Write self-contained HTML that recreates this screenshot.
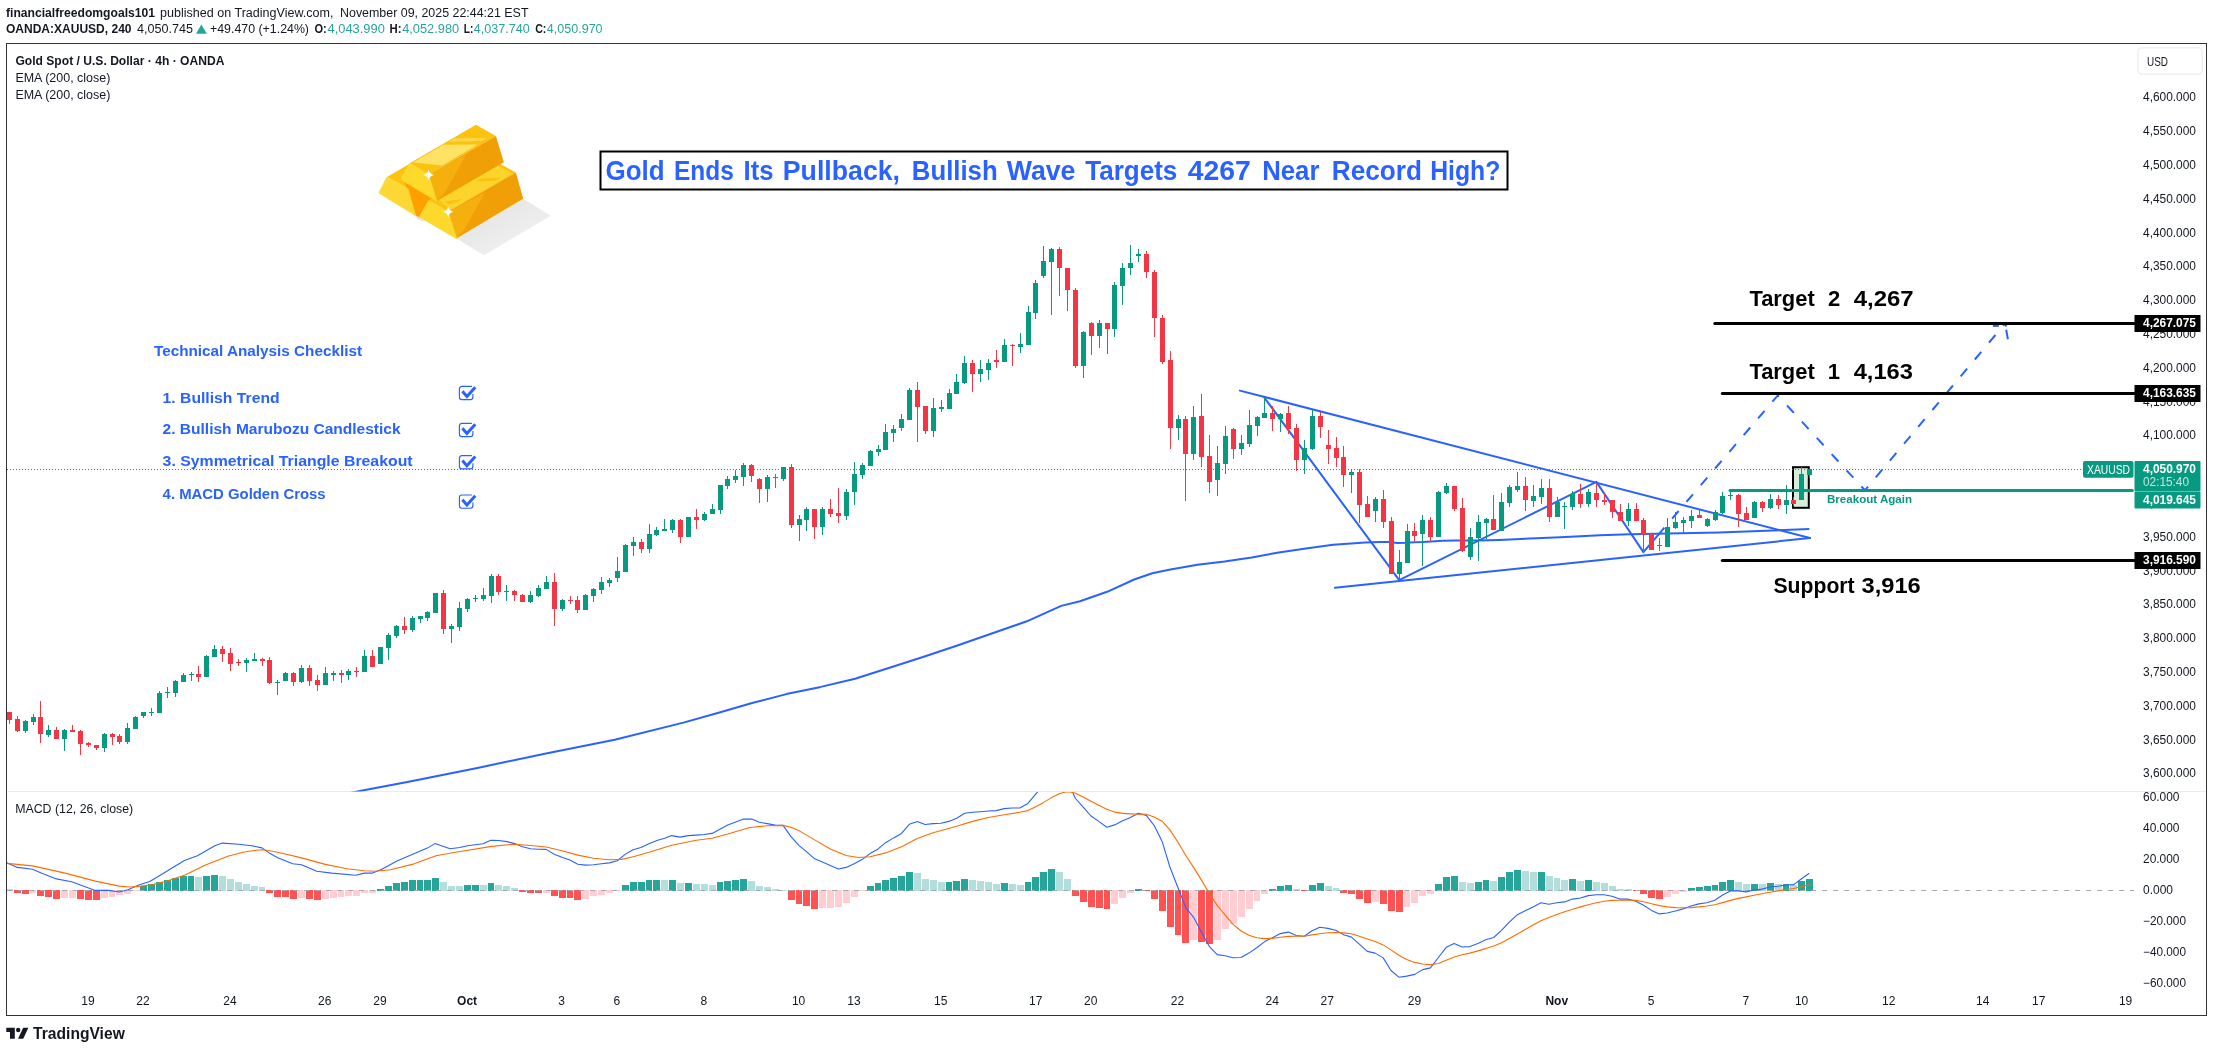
<!DOCTYPE html><html><head><meta charset="utf-8"><title>XAUUSD chart</title><style>html,body{margin:0;padding:0;background:#fff}svg{display:block;will-change:transform}</style></head><body><svg width="2213" height="1052" viewBox="0 0 2213 1052" font-family="'Liberation Sans', sans-serif">
<rect width="2213" height="1052" fill="#fff"/>
<defs><clipPath id="cm"><rect x="7" y="44" width="2200" height="747.5"/></clipPath><clipPath id="cd"><rect x="7" y="792" width="2128" height="223"/></clipPath></defs>
<text x="6" y="17" font-size="12" font-weight="bold" fill="#131722" text-anchor="start" textLength="149" lengthAdjust="spacingAndGlyphs">financialfreedomgoals101</text>
<text x="160" y="17" font-size="12" font-weight="normal" fill="#131722" text-anchor="start" textLength="173.5" lengthAdjust="spacingAndGlyphs">published on TradingView.com,</text>
<text x="340" y="17" font-size="12" font-weight="normal" fill="#131722" text-anchor="start" textLength="188.5" lengthAdjust="spacingAndGlyphs">November 09, 2025 22:44:21 EST</text>
<text x="6" y="33.2" font-size="12" font-weight="bold" fill="#131722" text-anchor="start" textLength="125.5" lengthAdjust="spacingAndGlyphs">OANDA:XAUUSD, 240</text>
<text x="137" y="33.2" font-size="12" font-weight="normal" fill="#131722" text-anchor="start" textLength="56" lengthAdjust="spacingAndGlyphs">4,050.745</text>
<path d="M196 33.7 L201.4 24.4 L206.8 33.7 Z" fill="#26a69a"/>
<text x="210" y="33.2" font-size="12" font-weight="normal" fill="#131722" text-anchor="start" textLength="99" lengthAdjust="spacingAndGlyphs">+49.470 (+1.24%)</text>
<text x="314.4" y="33.2" font-size="12" font-weight="bold" fill="#131722" text-anchor="start" textLength="12.3" lengthAdjust="spacingAndGlyphs">O:</text>
<text x="327.6" y="33.2" font-size="12" font-weight="normal" fill="#26a69a" text-anchor="start" textLength="57.2" lengthAdjust="spacingAndGlyphs">4,043.990</text>
<text x="389.5" y="33.2" font-size="12" font-weight="bold" fill="#131722" text-anchor="start" textLength="12" lengthAdjust="spacingAndGlyphs">H:</text>
<text x="402.2" y="33.2" font-size="12" font-weight="normal" fill="#26a69a" text-anchor="start" textLength="57" lengthAdjust="spacingAndGlyphs">4,052.980</text>
<text x="463.7" y="33.2" font-size="12" font-weight="bold" fill="#131722" text-anchor="start" textLength="9.6" lengthAdjust="spacingAndGlyphs">L:</text>
<text x="473.8" y="33.2" font-size="12" font-weight="normal" fill="#26a69a" text-anchor="start" textLength="56" lengthAdjust="spacingAndGlyphs">4,037.740</text>
<text x="535.2" y="33.2" font-size="12" font-weight="bold" fill="#131722" text-anchor="start" textLength="11.2" lengthAdjust="spacingAndGlyphs">C:</text>
<text x="546.8" y="33.2" font-size="12" font-weight="normal" fill="#26a69a" text-anchor="start" textLength="55.8" lengthAdjust="spacingAndGlyphs">4,050.970</text>
<rect x="6.5" y="43.5" width="2200" height="972" fill="none" stroke="#333" stroke-width="1"/>
<line x1="8" y1="791.5" x2="2206" y2="791.5" stroke="#ebebeb" stroke-width="1"/>
<text x="2196" y="777.3" font-size="12" font-weight="normal" fill="#131722" text-anchor="end" textLength="53" lengthAdjust="spacingAndGlyphs">3,600.000</text>
<text x="2196" y="743.5" font-size="12" font-weight="normal" fill="#131722" text-anchor="end" textLength="53" lengthAdjust="spacingAndGlyphs">3,650.000</text>
<text x="2196" y="709.7" font-size="12" font-weight="normal" fill="#131722" text-anchor="end" textLength="53" lengthAdjust="spacingAndGlyphs">3,700.000</text>
<text x="2196" y="675.9" font-size="12" font-weight="normal" fill="#131722" text-anchor="end" textLength="53" lengthAdjust="spacingAndGlyphs">3,750.000</text>
<text x="2196" y="642.1" font-size="12" font-weight="normal" fill="#131722" text-anchor="end" textLength="53" lengthAdjust="spacingAndGlyphs">3,800.000</text>
<text x="2196" y="608.3" font-size="12" font-weight="normal" fill="#131722" text-anchor="end" textLength="53" lengthAdjust="spacingAndGlyphs">3,850.000</text>
<text x="2196" y="574.5" font-size="12" font-weight="normal" fill="#131722" text-anchor="end" textLength="53" lengthAdjust="spacingAndGlyphs">3,900.000</text>
<text x="2196" y="540.7" font-size="12" font-weight="normal" fill="#131722" text-anchor="end" textLength="53" lengthAdjust="spacingAndGlyphs">3,950.000</text>
<text x="2196" y="506.9" font-size="12" font-weight="normal" fill="#131722" text-anchor="end" textLength="53" lengthAdjust="spacingAndGlyphs">4,000.000</text>
<text x="2196" y="473.1" font-size="12" font-weight="normal" fill="#131722" text-anchor="end" textLength="53" lengthAdjust="spacingAndGlyphs">4,050.000</text>
<text x="2196" y="439.3" font-size="12" font-weight="normal" fill="#131722" text-anchor="end" textLength="53" lengthAdjust="spacingAndGlyphs">4,100.000</text>
<text x="2196" y="405.5" font-size="12" font-weight="normal" fill="#131722" text-anchor="end" textLength="53" lengthAdjust="spacingAndGlyphs">4,150.000</text>
<text x="2196" y="371.7" font-size="12" font-weight="normal" fill="#131722" text-anchor="end" textLength="53" lengthAdjust="spacingAndGlyphs">4,200.000</text>
<text x="2196" y="337.9" font-size="12" font-weight="normal" fill="#131722" text-anchor="end" textLength="53" lengthAdjust="spacingAndGlyphs">4,250.000</text>
<text x="2196" y="304.1" font-size="12" font-weight="normal" fill="#131722" text-anchor="end" textLength="53" lengthAdjust="spacingAndGlyphs">4,300.000</text>
<text x="2196" y="270.3" font-size="12" font-weight="normal" fill="#131722" text-anchor="end" textLength="53" lengthAdjust="spacingAndGlyphs">4,350.000</text>
<text x="2196" y="236.5" font-size="12" font-weight="normal" fill="#131722" text-anchor="end" textLength="53" lengthAdjust="spacingAndGlyphs">4,400.000</text>
<text x="2196" y="202.7" font-size="12" font-weight="normal" fill="#131722" text-anchor="end" textLength="53" lengthAdjust="spacingAndGlyphs">4,450.000</text>
<text x="2196" y="168.9" font-size="12" font-weight="normal" fill="#131722" text-anchor="end" textLength="53" lengthAdjust="spacingAndGlyphs">4,500.000</text>
<text x="2196" y="135.1" font-size="12" font-weight="normal" fill="#131722" text-anchor="end" textLength="53" lengthAdjust="spacingAndGlyphs">4,550.000</text>
<text x="2196" y="101.3" font-size="12" font-weight="normal" fill="#131722" text-anchor="end" textLength="53" lengthAdjust="spacingAndGlyphs">4,600.000</text>
<text x="2143" y="987.0" font-size="12" font-weight="normal" fill="#131722" text-anchor="start" textLength="43" lengthAdjust="spacingAndGlyphs">−60.000</text>
<text x="2143" y="956.0" font-size="12" font-weight="normal" fill="#131722" text-anchor="start" textLength="43" lengthAdjust="spacingAndGlyphs">−40.000</text>
<text x="2143" y="925.1" font-size="12" font-weight="normal" fill="#131722" text-anchor="start" textLength="43" lengthAdjust="spacingAndGlyphs">−20.000</text>
<text x="2143" y="894.2" font-size="12" font-weight="normal" fill="#131722" text-anchor="start" textLength="30" lengthAdjust="spacingAndGlyphs">0.000</text>
<text x="2143" y="863.3" font-size="12" font-weight="normal" fill="#131722" text-anchor="start" textLength="36.5" lengthAdjust="spacingAndGlyphs">20.000</text>
<text x="2143" y="832.4" font-size="12" font-weight="normal" fill="#131722" text-anchor="start" textLength="36.5" lengthAdjust="spacingAndGlyphs">40.000</text>
<text x="2143" y="801.4" font-size="12" font-weight="normal" fill="#131722" text-anchor="start" textLength="36.5" lengthAdjust="spacingAndGlyphs">60.000</text>
<rect x="2138" y="47.7" width="64.2" height="26.6" rx="4.5" fill="#fff" stroke="#f0f0f1" stroke-width="1.6"/>
<text x="2147" y="66" font-size="12" font-weight="normal" fill="#131722" text-anchor="start" textLength="21" lengthAdjust="spacingAndGlyphs">USD</text>
<text x="87.9" y="1005" font-size="12" font-weight="normal" fill="#131722" text-anchor="middle">19</text>
<text x="143" y="1005" font-size="12" font-weight="normal" fill="#131722" text-anchor="middle">22</text>
<text x="230" y="1005" font-size="12" font-weight="normal" fill="#131722" text-anchor="middle">24</text>
<text x="324.7" y="1005" font-size="12" font-weight="normal" fill="#131722" text-anchor="middle">26</text>
<text x="380" y="1005" font-size="12" font-weight="normal" fill="#131722" text-anchor="middle">29</text>
<text x="467.1" y="1005" font-size="12" font-weight="bold" fill="#131722" text-anchor="middle">Oct</text>
<text x="561.5" y="1005" font-size="12" font-weight="normal" fill="#131722" text-anchor="middle">3</text>
<text x="616.8" y="1005" font-size="12" font-weight="normal" fill="#131722" text-anchor="middle">6</text>
<text x="703.9" y="1005" font-size="12" font-weight="normal" fill="#131722" text-anchor="middle">8</text>
<text x="798.6" y="1005" font-size="12" font-weight="normal" fill="#131722" text-anchor="middle">10</text>
<text x="854" y="1005" font-size="12" font-weight="normal" fill="#131722" text-anchor="middle">13</text>
<text x="940.7" y="1005" font-size="12" font-weight="normal" fill="#131722" text-anchor="middle">15</text>
<text x="1035.8" y="1005" font-size="12" font-weight="normal" fill="#131722" text-anchor="middle">17</text>
<text x="1090.8" y="1005" font-size="12" font-weight="normal" fill="#131722" text-anchor="middle">20</text>
<text x="1177.5" y="1005" font-size="12" font-weight="normal" fill="#131722" text-anchor="middle">22</text>
<text x="1272.3" y="1005" font-size="12" font-weight="normal" fill="#131722" text-anchor="middle">24</text>
<text x="1327.3" y="1005" font-size="12" font-weight="normal" fill="#131722" text-anchor="middle">27</text>
<text x="1414.4" y="1005" font-size="12" font-weight="normal" fill="#131722" text-anchor="middle">29</text>
<text x="1556.8" y="1005" font-size="12" font-weight="bold" fill="#131722" text-anchor="middle">Nov</text>
<text x="1651.2" y="1005" font-size="12" font-weight="normal" fill="#131722" text-anchor="middle">5</text>
<text x="1745.9" y="1005" font-size="12" font-weight="normal" fill="#131722" text-anchor="middle">7</text>
<text x="1801.6" y="1005" font-size="12" font-weight="normal" fill="#131722" text-anchor="middle">10</text>
<text x="1888.7" y="1005" font-size="12" font-weight="normal" fill="#131722" text-anchor="middle">12</text>
<text x="1982.7" y="1005" font-size="12" font-weight="normal" fill="#131722" text-anchor="middle">14</text>
<text x="2038.7" y="1005" font-size="12" font-weight="normal" fill="#131722" text-anchor="middle">17</text>
<text x="2125.6" y="1005" font-size="12" font-weight="normal" fill="#131722" text-anchor="middle">19</text>
<text x="15.4" y="65" font-size="12" font-weight="bold" fill="#131722" text-anchor="start" textLength="209" lengthAdjust="spacingAndGlyphs">Gold Spot / U.S. Dollar · 4h · OANDA</text>
<text x="15.4" y="82.2" font-size="12" font-weight="normal" fill="#131722" text-anchor="start" textLength="95" lengthAdjust="spacingAndGlyphs">EMA (200, close)</text>
<text x="15.4" y="99" font-size="12" font-weight="normal" fill="#131722" text-anchor="start" textLength="95" lengthAdjust="spacingAndGlyphs">EMA (200, close)</text>
<text x="15.2" y="812.5" font-size="12" font-weight="normal" fill="#131722" text-anchor="start" textLength="118" lengthAdjust="spacingAndGlyphs">MACD (12, 26, close)</text>
<g clip-path="url(#cm)">
<polyline fill="none" stroke="#2962ff" stroke-width="2" stroke-linejoin="round" points="340,795 362.3,790.6 408.7,781.7 477.4,767.9 546,753.5 614.7,739.8 683.4,722.6 717.7,713 752.1,703 786.4,694.1 820.8,686.9 855.1,678.7 889.5,667.7 923.8,656.7 958.1,645.3 992.5,633.3 1026.8,621.3 1061.2,605.9 1080,601.2 1107.1,591.8 1134.2,579.5 1152.3,573.2 1170.4,569.6 1197.5,564.7 1224.6,561.5 1251.7,557.5 1278.8,552.4 1305.9,548.4 1333,544.8 1351.1,543.4 1365,542.5 1380,542 1388.6,542.1 1397.1,543 1405.7,542.8 1414.2,542.3 1422.8,542 1431.3,541.4 1442.7,540.7 1454.2,540.4 1465.6,540.6 1477,540.6 1499.4,539.9 1560.4,537.2 1600,535.3 1630,534.2 1719,532.5 1809.3,529.1"/>
<line x1="1239.9" y1="390.6" x2="1810" y2="538" stroke="#2962ff" stroke-width="2" stroke-linecap="round"/>
<line x1="1334.9" y1="587.7" x2="1810" y2="538" stroke="#2962ff" stroke-width="2" stroke-linecap="round"/>
<polyline fill="none" stroke="#2962ff" stroke-width="2" stroke-linejoin="round" stroke-linecap="round" points="1264.5,397.8 1399.2,580.2 1596.4,481.9 1643.4,552.1 1657.8,535.3"/>
<polyline fill="none" stroke="#2962ff" stroke-width="2" stroke-dasharray="10 12" points="1657.8,535.3 1777.8,395.4 1864.9,490.3 2005.5,323"/>
<path d="M1992.9 325.9 L1998.9 325.7 M2005.3 324.5 L2006.5 326.6 M2006.2 329.7 L2007.9 339.2" fill="none" stroke="#2962ff" stroke-width="2"/>
<rect x="1793" y="467.2" width="15.8" height="40.6" fill="rgba(76,175,80,0.22)" stroke="#000" stroke-width="2"/>
<line x1="1714.8" y1="323.5" x2="2134" y2="323.5" stroke="#000" stroke-width="3" stroke-linecap="round"/>
<line x1="1722.3" y1="393.5" x2="2134" y2="393.5" stroke="#000" stroke-width="3" stroke-linecap="round"/>
<line x1="1722.3" y1="560.5" x2="2134" y2="560.5" stroke="#000" stroke-width="3" stroke-linecap="round"/>
<line x1="1730" y1="490.6" x2="2132.3" y2="490.6" stroke="#089981" stroke-width="3" stroke-linecap="round"/>
<rect x="9" y="712" width="1" height="12" fill="#f23645"/>
<rect x="7" y="712" width="5" height="8" fill="#f23645"/>
<rect x="17" y="716" width="1" height="16" fill="#f23645"/>
<rect x="15" y="719" width="5" height="12" fill="#f23645"/>
<rect x="25" y="720" width="1" height="13" fill="#089981"/>
<rect x="23" y="721" width="5" height="10" fill="#089981"/>
<rect x="33" y="714" width="1" height="11" fill="#089981"/>
<rect x="31" y="717" width="5" height="5" fill="#089981"/>
<rect x="40" y="701" width="1" height="42" fill="#f23645"/>
<rect x="38" y="717" width="5" height="17" fill="#f23645"/>
<rect x="48" y="725" width="1" height="12" fill="#089981"/>
<rect x="46" y="730" width="5" height="5" fill="#089981"/>
<rect x="56" y="727" width="1" height="12" fill="#f23645"/>
<rect x="54" y="730" width="5" height="9" fill="#f23645"/>
<rect x="64" y="729" width="1" height="22" fill="#089981"/>
<rect x="62" y="730" width="5" height="9" fill="#089981"/>
<rect x="72" y="725" width="1" height="7" fill="#f23645"/>
<rect x="70" y="730" width="5" height="2" fill="#f23645"/>
<rect x="80" y="730" width="1" height="25" fill="#f23645"/>
<rect x="78" y="731" width="5" height="13" fill="#f23645"/>
<rect x="88" y="742" width="1" height="5" fill="#f23645"/>
<rect x="86" y="743" width="5" height="2" fill="#f23645"/>
<rect x="96" y="745" width="1" height="5" fill="#f23645"/>
<rect x="94" y="745" width="5" height="3" fill="#f23645"/>
<rect x="104" y="733" width="1" height="19" fill="#089981"/>
<rect x="102" y="734" width="5" height="14" fill="#089981"/>
<rect x="112" y="733" width="1" height="12" fill="#f23645"/>
<rect x="110" y="734" width="5" height="3" fill="#f23645"/>
<rect x="119" y="734" width="1" height="10" fill="#f23645"/>
<rect x="117" y="736" width="5" height="6" fill="#f23645"/>
<rect x="127" y="723" width="1" height="21" fill="#089981"/>
<rect x="125" y="728" width="5" height="14" fill="#089981"/>
<rect x="135" y="716" width="1" height="13" fill="#089981"/>
<rect x="133" y="717" width="5" height="12" fill="#089981"/>
<rect x="143" y="712" width="1" height="6" fill="#089981"/>
<rect x="141" y="712" width="5" height="4" fill="#089981"/>
<rect x="151" y="708" width="1" height="8" fill="#089981"/>
<rect x="149" y="712" width="5" height="1" fill="#089981"/>
<rect x="159" y="691" width="1" height="22" fill="#089981"/>
<rect x="157" y="693" width="5" height="20" fill="#089981"/>
<rect x="167" y="687" width="1" height="11" fill="#089981"/>
<rect x="165" y="692" width="5" height="1" fill="#089981"/>
<rect x="175" y="680" width="1" height="17" fill="#089981"/>
<rect x="173" y="681" width="5" height="12" fill="#089981"/>
<rect x="183" y="673" width="1" height="9" fill="#089981"/>
<rect x="181" y="675" width="5" height="7" fill="#089981"/>
<rect x="191" y="672" width="1" height="9" fill="#089981"/>
<rect x="189" y="674" width="5" height="1" fill="#089981"/>
<rect x="198" y="666" width="1" height="16" fill="#f23645"/>
<rect x="196" y="674" width="5" height="3" fill="#f23645"/>
<rect x="206" y="655" width="1" height="22" fill="#089981"/>
<rect x="204" y="656" width="5" height="21" fill="#089981"/>
<rect x="214" y="645" width="1" height="12" fill="#089981"/>
<rect x="212" y="649" width="5" height="8" fill="#089981"/>
<rect x="222" y="646" width="1" height="16" fill="#f23645"/>
<rect x="220" y="649" width="5" height="5" fill="#f23645"/>
<rect x="230" y="648" width="1" height="23" fill="#f23645"/>
<rect x="228" y="653" width="5" height="11" fill="#f23645"/>
<rect x="238" y="659" width="1" height="7" fill="#f23645"/>
<rect x="236" y="662" width="5" height="1" fill="#f23645"/>
<rect x="246" y="658" width="1" height="14" fill="#089981"/>
<rect x="244" y="660" width="5" height="3" fill="#089981"/>
<rect x="254" y="653" width="1" height="8" fill="#089981"/>
<rect x="252" y="659" width="5" height="2" fill="#089981"/>
<rect x="262" y="658" width="1" height="8" fill="#f23645"/>
<rect x="260" y="659" width="5" height="2" fill="#f23645"/>
<rect x="269" y="657" width="1" height="27" fill="#f23645"/>
<rect x="267" y="660" width="5" height="23" fill="#f23645"/>
<rect x="277" y="680" width="1" height="15" fill="#089981"/>
<rect x="275" y="682" width="5" height="1" fill="#089981"/>
<rect x="285" y="672" width="1" height="9" fill="#089981"/>
<rect x="283" y="673" width="5" height="8" fill="#089981"/>
<rect x="293" y="672" width="1" height="14" fill="#f23645"/>
<rect x="291" y="673" width="5" height="9" fill="#f23645"/>
<rect x="301" y="665" width="1" height="18" fill="#089981"/>
<rect x="299" y="668" width="5" height="14" fill="#089981"/>
<rect x="309" y="665" width="1" height="21" fill="#f23645"/>
<rect x="307" y="668" width="5" height="13" fill="#f23645"/>
<rect x="317" y="675" width="1" height="16" fill="#f23645"/>
<rect x="315" y="680" width="5" height="5" fill="#f23645"/>
<rect x="325" y="667" width="1" height="18" fill="#089981"/>
<rect x="323" y="673" width="5" height="12" fill="#089981"/>
<rect x="333" y="671" width="1" height="10" fill="#089981"/>
<rect x="331" y="673" width="5" height="2" fill="#089981"/>
<rect x="341" y="670" width="1" height="13" fill="#f23645"/>
<rect x="339" y="673" width="5" height="2" fill="#f23645"/>
<rect x="348" y="669" width="1" height="11" fill="#089981"/>
<rect x="346" y="671" width="5" height="4" fill="#089981"/>
<rect x="356" y="667" width="1" height="10" fill="#f23645"/>
<rect x="354" y="671" width="5" height="1" fill="#f23645"/>
<rect x="364" y="650" width="1" height="22" fill="#089981"/>
<rect x="362" y="656" width="5" height="16" fill="#089981"/>
<rect x="372" y="650" width="1" height="17" fill="#f23645"/>
<rect x="370" y="656" width="5" height="11" fill="#f23645"/>
<rect x="380" y="647" width="1" height="17" fill="#089981"/>
<rect x="378" y="647" width="5" height="17" fill="#089981"/>
<rect x="388" y="633" width="1" height="27" fill="#089981"/>
<rect x="386" y="635" width="5" height="13" fill="#089981"/>
<rect x="396" y="625" width="1" height="13" fill="#089981"/>
<rect x="394" y="626" width="5" height="10" fill="#089981"/>
<rect x="404" y="617" width="1" height="17" fill="#f23645"/>
<rect x="402" y="626" width="5" height="4" fill="#f23645"/>
<rect x="412" y="616" width="1" height="16" fill="#089981"/>
<rect x="410" y="618" width="5" height="12" fill="#089981"/>
<rect x="420" y="616" width="1" height="7" fill="#089981"/>
<rect x="418" y="616" width="5" height="3" fill="#089981"/>
<rect x="427" y="611" width="1" height="10" fill="#089981"/>
<rect x="425" y="612" width="5" height="6" fill="#089981"/>
<rect x="435" y="593" width="1" height="20" fill="#089981"/>
<rect x="433" y="593" width="5" height="20" fill="#089981"/>
<rect x="443" y="590" width="1" height="44" fill="#f23645"/>
<rect x="441" y="593" width="5" height="36" fill="#f23645"/>
<rect x="451" y="624" width="1" height="19" fill="#089981"/>
<rect x="449" y="626" width="5" height="3" fill="#089981"/>
<rect x="459" y="602" width="1" height="29" fill="#089981"/>
<rect x="457" y="608" width="5" height="19" fill="#089981"/>
<rect x="467" y="598" width="1" height="14" fill="#089981"/>
<rect x="465" y="599" width="5" height="10" fill="#089981"/>
<rect x="475" y="595" width="1" height="7" fill="#089981"/>
<rect x="473" y="598" width="5" height="1" fill="#089981"/>
<rect x="483" y="588" width="1" height="13" fill="#089981"/>
<rect x="481" y="595" width="5" height="4" fill="#089981"/>
<rect x="491" y="574" width="1" height="29" fill="#089981"/>
<rect x="489" y="576" width="5" height="20" fill="#089981"/>
<rect x="498" y="574" width="1" height="21" fill="#f23645"/>
<rect x="496" y="576" width="5" height="16" fill="#f23645"/>
<rect x="506" y="585" width="1" height="16" fill="#089981"/>
<rect x="504" y="591" width="5" height="1" fill="#089981"/>
<rect x="514" y="590" width="1" height="11" fill="#f23645"/>
<rect x="512" y="591" width="5" height="4" fill="#f23645"/>
<rect x="522" y="594" width="1" height="8" fill="#f23645"/>
<rect x="520" y="595" width="5" height="7" fill="#f23645"/>
<rect x="530" y="591" width="1" height="12" fill="#089981"/>
<rect x="528" y="595" width="5" height="7" fill="#089981"/>
<rect x="538" y="585" width="1" height="12" fill="#089981"/>
<rect x="536" y="588" width="5" height="8" fill="#089981"/>
<rect x="546" y="576" width="1" height="13" fill="#089981"/>
<rect x="544" y="582" width="5" height="7" fill="#089981"/>
<rect x="554" y="573" width="1" height="53" fill="#f23645"/>
<rect x="552" y="582" width="5" height="27" fill="#f23645"/>
<rect x="562" y="599" width="1" height="12" fill="#089981"/>
<rect x="560" y="600" width="5" height="9" fill="#089981"/>
<rect x="570" y="596" width="1" height="8" fill="#f23645"/>
<rect x="568" y="600" width="5" height="1" fill="#f23645"/>
<rect x="577" y="596" width="1" height="17" fill="#f23645"/>
<rect x="575" y="600" width="5" height="10" fill="#f23645"/>
<rect x="585" y="594" width="1" height="16" fill="#089981"/>
<rect x="583" y="595" width="5" height="15" fill="#089981"/>
<rect x="593" y="588" width="1" height="14" fill="#089981"/>
<rect x="591" y="589" width="5" height="7" fill="#089981"/>
<rect x="601" y="577" width="1" height="17" fill="#089981"/>
<rect x="599" y="582" width="5" height="8" fill="#089981"/>
<rect x="609" y="578" width="1" height="9" fill="#089981"/>
<rect x="607" y="580" width="5" height="3" fill="#089981"/>
<rect x="617" y="557" width="1" height="25" fill="#089981"/>
<rect x="615" y="571" width="5" height="7" fill="#089981"/>
<rect x="625" y="544" width="1" height="28" fill="#089981"/>
<rect x="623" y="545" width="5" height="27" fill="#089981"/>
<rect x="633" y="537" width="1" height="19" fill="#089981"/>
<rect x="631" y="542" width="5" height="4" fill="#089981"/>
<rect x="641" y="539" width="1" height="14" fill="#f23645"/>
<rect x="639" y="542" width="5" height="7" fill="#f23645"/>
<rect x="649" y="524" width="1" height="29" fill="#089981"/>
<rect x="647" y="534" width="5" height="15" fill="#089981"/>
<rect x="656" y="527" width="1" height="9" fill="#089981"/>
<rect x="654" y="530" width="5" height="5" fill="#089981"/>
<rect x="664" y="519" width="1" height="12" fill="#089981"/>
<rect x="662" y="529" width="5" height="2" fill="#089981"/>
<rect x="672" y="519" width="1" height="14" fill="#089981"/>
<rect x="670" y="520" width="5" height="10" fill="#089981"/>
<rect x="680" y="519" width="1" height="24" fill="#f23645"/>
<rect x="678" y="520" width="5" height="17" fill="#f23645"/>
<rect x="688" y="517" width="1" height="20" fill="#089981"/>
<rect x="686" y="517" width="5" height="20" fill="#089981"/>
<rect x="696" y="509" width="1" height="20" fill="#f23645"/>
<rect x="694" y="517" width="5" height="3" fill="#f23645"/>
<rect x="704" y="512" width="1" height="9" fill="#089981"/>
<rect x="702" y="514" width="5" height="6" fill="#089981"/>
<rect x="712" y="504" width="1" height="10" fill="#089981"/>
<rect x="710" y="509" width="5" height="5" fill="#089981"/>
<rect x="720" y="485" width="1" height="29" fill="#089981"/>
<rect x="718" y="485" width="5" height="25" fill="#089981"/>
<rect x="727" y="476" width="1" height="13" fill="#089981"/>
<rect x="725" y="479" width="5" height="7" fill="#089981"/>
<rect x="735" y="470" width="1" height="13" fill="#089981"/>
<rect x="733" y="476" width="5" height="4" fill="#089981"/>
<rect x="743" y="463" width="1" height="23" fill="#089981"/>
<rect x="741" y="465" width="5" height="12" fill="#089981"/>
<rect x="751" y="464" width="1" height="18" fill="#f23645"/>
<rect x="749" y="465" width="5" height="11" fill="#f23645"/>
<rect x="759" y="478" width="1" height="25" fill="#f23645"/>
<rect x="757" y="479" width="5" height="10" fill="#f23645"/>
<rect x="767" y="475" width="1" height="27" fill="#089981"/>
<rect x="765" y="477" width="5" height="12" fill="#089981"/>
<rect x="775" y="474" width="1" height="14" fill="#f23645"/>
<rect x="773" y="477" width="5" height="1" fill="#f23645"/>
<rect x="783" y="467" width="1" height="14" fill="#089981"/>
<rect x="781" y="467" width="5" height="12" fill="#089981"/>
<rect x="791" y="464" width="1" height="64" fill="#f23645"/>
<rect x="789" y="467" width="5" height="58" fill="#f23645"/>
<rect x="799" y="515" width="1" height="26" fill="#089981"/>
<rect x="797" y="519" width="5" height="6" fill="#089981"/>
<rect x="806" y="507" width="1" height="24" fill="#089981"/>
<rect x="804" y="509" width="5" height="11" fill="#089981"/>
<rect x="814" y="509" width="1" height="30" fill="#f23645"/>
<rect x="812" y="509" width="5" height="18" fill="#f23645"/>
<rect x="822" y="507" width="1" height="28" fill="#089981"/>
<rect x="820" y="509" width="5" height="18" fill="#089981"/>
<rect x="830" y="499" width="1" height="18" fill="#f23645"/>
<rect x="828" y="509" width="5" height="5" fill="#f23645"/>
<rect x="838" y="488" width="1" height="35" fill="#f23645"/>
<rect x="836" y="513" width="5" height="3" fill="#f23645"/>
<rect x="846" y="489" width="1" height="31" fill="#089981"/>
<rect x="844" y="492" width="5" height="24" fill="#089981"/>
<rect x="854" y="462" width="1" height="43" fill="#089981"/>
<rect x="852" y="474" width="5" height="18" fill="#089981"/>
<rect x="862" y="463" width="1" height="16" fill="#089981"/>
<rect x="860" y="465" width="5" height="10" fill="#089981"/>
<rect x="870" y="450" width="1" height="16" fill="#089981"/>
<rect x="868" y="451" width="5" height="15" fill="#089981"/>
<rect x="878" y="445" width="1" height="11" fill="#089981"/>
<rect x="876" y="449" width="5" height="3" fill="#089981"/>
<rect x="885" y="424" width="1" height="26" fill="#089981"/>
<rect x="883" y="432" width="5" height="18" fill="#089981"/>
<rect x="893" y="425" width="1" height="17" fill="#089981"/>
<rect x="891" y="429" width="5" height="4" fill="#089981"/>
<rect x="901" y="414" width="1" height="17" fill="#089981"/>
<rect x="899" y="419" width="5" height="9" fill="#089981"/>
<rect x="909" y="388" width="1" height="32" fill="#089981"/>
<rect x="907" y="390" width="5" height="30" fill="#089981"/>
<rect x="917" y="382" width="1" height="60" fill="#f23645"/>
<rect x="915" y="390" width="5" height="17" fill="#f23645"/>
<rect x="925" y="406" width="1" height="28" fill="#f23645"/>
<rect x="923" y="406" width="5" height="25" fill="#f23645"/>
<rect x="933" y="398" width="1" height="39" fill="#089981"/>
<rect x="931" y="408" width="5" height="23" fill="#089981"/>
<rect x="941" y="400" width="1" height="12" fill="#089981"/>
<rect x="939" y="407" width="5" height="2" fill="#089981"/>
<rect x="949" y="389" width="1" height="20" fill="#089981"/>
<rect x="947" y="393" width="5" height="16" fill="#089981"/>
<rect x="956" y="374" width="1" height="20" fill="#089981"/>
<rect x="954" y="382" width="5" height="12" fill="#089981"/>
<rect x="964" y="356" width="1" height="28" fill="#089981"/>
<rect x="962" y="363" width="5" height="20" fill="#089981"/>
<rect x="972" y="360" width="1" height="32" fill="#f23645"/>
<rect x="970" y="363" width="5" height="11" fill="#f23645"/>
<rect x="980" y="360" width="1" height="22" fill="#089981"/>
<rect x="978" y="369" width="5" height="5" fill="#089981"/>
<rect x="988" y="359" width="1" height="21" fill="#089981"/>
<rect x="986" y="363" width="5" height="7" fill="#089981"/>
<rect x="996" y="350" width="1" height="18" fill="#f23645"/>
<rect x="994" y="360" width="5" height="2" fill="#f23645"/>
<rect x="1004" y="339" width="1" height="23" fill="#089981"/>
<rect x="1002" y="345" width="5" height="17" fill="#089981"/>
<rect x="1012" y="344" width="1" height="22" fill="#f23645"/>
<rect x="1010" y="345" width="5" height="1" fill="#f23645"/>
<rect x="1020" y="333" width="1" height="20" fill="#089981"/>
<rect x="1018" y="344" width="5" height="3" fill="#089981"/>
<rect x="1028" y="306" width="1" height="39" fill="#089981"/>
<rect x="1026" y="312" width="5" height="33" fill="#089981"/>
<rect x="1035" y="280" width="1" height="39" fill="#089981"/>
<rect x="1033" y="283" width="5" height="30" fill="#089981"/>
<rect x="1043" y="246" width="1" height="32" fill="#089981"/>
<rect x="1041" y="261" width="5" height="15" fill="#089981"/>
<rect x="1051" y="248" width="1" height="67" fill="#089981"/>
<rect x="1049" y="249" width="5" height="13" fill="#089981"/>
<rect x="1059" y="247" width="1" height="49" fill="#f23645"/>
<rect x="1057" y="249" width="5" height="19" fill="#f23645"/>
<rect x="1067" y="268" width="1" height="43" fill="#f23645"/>
<rect x="1065" y="268" width="5" height="22" fill="#f23645"/>
<rect x="1075" y="288" width="1" height="80" fill="#f23645"/>
<rect x="1073" y="290" width="5" height="76" fill="#f23645"/>
<rect x="1083" y="331" width="1" height="47" fill="#089981"/>
<rect x="1081" y="332" width="5" height="34" fill="#089981"/>
<rect x="1091" y="322" width="1" height="33" fill="#f23645"/>
<rect x="1089" y="323" width="5" height="13" fill="#f23645"/>
<rect x="1099" y="320" width="1" height="28" fill="#089981"/>
<rect x="1097" y="323" width="5" height="13" fill="#089981"/>
<rect x="1107" y="323" width="1" height="31" fill="#f23645"/>
<rect x="1105" y="323" width="5" height="6" fill="#f23645"/>
<rect x="1114" y="282" width="1" height="55" fill="#089981"/>
<rect x="1112" y="285" width="5" height="44" fill="#089981"/>
<rect x="1122" y="263" width="1" height="42" fill="#089981"/>
<rect x="1120" y="268" width="5" height="18" fill="#089981"/>
<rect x="1130" y="245" width="1" height="30" fill="#089981"/>
<rect x="1128" y="263" width="5" height="5" fill="#089981"/>
<rect x="1138" y="249" width="1" height="13" fill="#089981"/>
<rect x="1136" y="254" width="5" height="2" fill="#089981"/>
<rect x="1146" y="251" width="1" height="27" fill="#f23645"/>
<rect x="1144" y="254" width="5" height="18" fill="#f23645"/>
<rect x="1154" y="270" width="1" height="67" fill="#f23645"/>
<rect x="1152" y="272" width="5" height="46" fill="#f23645"/>
<rect x="1162" y="315" width="1" height="49" fill="#f23645"/>
<rect x="1160" y="318" width="5" height="44" fill="#f23645"/>
<rect x="1170" y="351" width="1" height="98" fill="#f23645"/>
<rect x="1168" y="360" width="5" height="68" fill="#f23645"/>
<rect x="1178" y="415" width="1" height="25" fill="#089981"/>
<rect x="1176" y="419" width="5" height="9" fill="#089981"/>
<rect x="1185" y="416" width="1" height="85" fill="#f23645"/>
<rect x="1183" y="419" width="5" height="35" fill="#f23645"/>
<rect x="1193" y="406" width="1" height="54" fill="#089981"/>
<rect x="1191" y="417" width="5" height="37" fill="#089981"/>
<rect x="1201" y="394" width="1" height="73" fill="#f23645"/>
<rect x="1199" y="416" width="5" height="41" fill="#f23645"/>
<rect x="1209" y="435" width="1" height="58" fill="#f23645"/>
<rect x="1207" y="456" width="5" height="26" fill="#f23645"/>
<rect x="1217" y="446" width="1" height="50" fill="#089981"/>
<rect x="1215" y="463" width="5" height="17" fill="#089981"/>
<rect x="1225" y="426" width="1" height="48" fill="#089981"/>
<rect x="1223" y="436" width="5" height="28" fill="#089981"/>
<rect x="1233" y="428" width="1" height="31" fill="#f23645"/>
<rect x="1231" y="429" width="5" height="20" fill="#f23645"/>
<rect x="1241" y="435" width="1" height="20" fill="#089981"/>
<rect x="1239" y="443" width="5" height="6" fill="#089981"/>
<rect x="1249" y="410" width="1" height="37" fill="#089981"/>
<rect x="1247" y="425" width="5" height="19" fill="#089981"/>
<rect x="1257" y="416" width="1" height="20" fill="#089981"/>
<rect x="1255" y="417" width="5" height="9" fill="#089981"/>
<rect x="1264" y="398" width="1" height="20" fill="#089981"/>
<rect x="1262" y="413" width="5" height="5" fill="#089981"/>
<rect x="1272" y="406" width="1" height="25" fill="#f23645"/>
<rect x="1270" y="413" width="5" height="6" fill="#f23645"/>
<rect x="1280" y="413" width="1" height="19" fill="#089981"/>
<rect x="1278" y="414" width="5" height="5" fill="#089981"/>
<rect x="1288" y="406" width="1" height="28" fill="#f23645"/>
<rect x="1286" y="413" width="5" height="16" fill="#f23645"/>
<rect x="1296" y="424" width="1" height="47" fill="#f23645"/>
<rect x="1294" y="428" width="5" height="32" fill="#f23645"/>
<rect x="1304" y="440" width="1" height="34" fill="#089981"/>
<rect x="1302" y="448" width="5" height="12" fill="#089981"/>
<rect x="1312" y="410" width="1" height="40" fill="#089981"/>
<rect x="1310" y="416" width="5" height="33" fill="#089981"/>
<rect x="1320" y="412" width="1" height="26" fill="#f23645"/>
<rect x="1318" y="416" width="5" height="11" fill="#f23645"/>
<rect x="1328" y="430" width="1" height="34" fill="#f23645"/>
<rect x="1326" y="445" width="5" height="4" fill="#f23645"/>
<rect x="1336" y="437" width="1" height="30" fill="#f23645"/>
<rect x="1334" y="448" width="5" height="10" fill="#f23645"/>
<rect x="1343" y="446" width="1" height="41" fill="#f23645"/>
<rect x="1341" y="457" width="5" height="18" fill="#f23645"/>
<rect x="1351" y="469" width="1" height="24" fill="#089981"/>
<rect x="1349" y="472" width="5" height="3" fill="#089981"/>
<rect x="1359" y="469" width="1" height="54" fill="#f23645"/>
<rect x="1357" y="472" width="5" height="33" fill="#f23645"/>
<rect x="1367" y="496" width="1" height="21" fill="#f23645"/>
<rect x="1365" y="504" width="5" height="13" fill="#f23645"/>
<rect x="1375" y="497" width="1" height="25" fill="#089981"/>
<rect x="1373" y="499" width="5" height="12" fill="#089981"/>
<rect x="1383" y="490" width="1" height="38" fill="#f23645"/>
<rect x="1381" y="499" width="5" height="23" fill="#f23645"/>
<rect x="1391" y="517" width="1" height="57" fill="#f23645"/>
<rect x="1389" y="521" width="5" height="53" fill="#f23645"/>
<rect x="1399" y="550" width="1" height="30" fill="#089981"/>
<rect x="1397" y="562" width="5" height="12" fill="#089981"/>
<rect x="1407" y="524" width="1" height="39" fill="#089981"/>
<rect x="1405" y="531" width="5" height="32" fill="#089981"/>
<rect x="1414" y="523" width="1" height="18" fill="#f23645"/>
<rect x="1412" y="531" width="5" height="5" fill="#f23645"/>
<rect x="1422" y="515" width="1" height="51" fill="#089981"/>
<rect x="1420" y="520" width="5" height="14" fill="#089981"/>
<rect x="1430" y="517" width="1" height="24" fill="#f23645"/>
<rect x="1428" y="520" width="5" height="17" fill="#f23645"/>
<rect x="1438" y="491" width="1" height="46" fill="#089981"/>
<rect x="1436" y="492" width="5" height="45" fill="#089981"/>
<rect x="1446" y="483" width="1" height="11" fill="#089981"/>
<rect x="1444" y="486" width="5" height="7" fill="#089981"/>
<rect x="1454" y="486" width="1" height="25" fill="#f23645"/>
<rect x="1452" y="486" width="5" height="23" fill="#f23645"/>
<rect x="1462" y="498" width="1" height="54" fill="#f23645"/>
<rect x="1460" y="508" width="5" height="43" fill="#f23645"/>
<rect x="1470" y="528" width="1" height="32" fill="#089981"/>
<rect x="1468" y="537" width="5" height="20" fill="#089981"/>
<rect x="1478" y="515" width="1" height="46" fill="#089981"/>
<rect x="1476" y="522" width="5" height="16" fill="#089981"/>
<rect x="1486" y="518" width="1" height="21" fill="#089981"/>
<rect x="1484" y="519" width="5" height="4" fill="#089981"/>
<rect x="1493" y="495" width="1" height="35" fill="#f23645"/>
<rect x="1491" y="519" width="5" height="11" fill="#f23645"/>
<rect x="1501" y="493" width="1" height="38" fill="#089981"/>
<rect x="1499" y="502" width="5" height="29" fill="#089981"/>
<rect x="1509" y="485" width="1" height="22" fill="#089981"/>
<rect x="1507" y="487" width="5" height="16" fill="#089981"/>
<rect x="1517" y="472" width="1" height="20" fill="#089981"/>
<rect x="1515" y="486" width="5" height="4" fill="#089981"/>
<rect x="1525" y="477" width="1" height="34" fill="#f23645"/>
<rect x="1523" y="486" width="5" height="14" fill="#f23645"/>
<rect x="1533" y="485" width="1" height="22" fill="#089981"/>
<rect x="1531" y="496" width="5" height="5" fill="#089981"/>
<rect x="1541" y="479" width="1" height="25" fill="#089981"/>
<rect x="1539" y="488" width="5" height="9" fill="#089981"/>
<rect x="1549" y="479" width="1" height="43" fill="#f23645"/>
<rect x="1547" y="488" width="5" height="29" fill="#f23645"/>
<rect x="1557" y="497" width="1" height="20" fill="#089981"/>
<rect x="1555" y="502" width="5" height="15" fill="#089981"/>
<rect x="1564" y="502" width="1" height="27" fill="#089981"/>
<rect x="1562" y="506" width="5" height="1" fill="#089981"/>
<rect x="1572" y="491" width="1" height="19" fill="#089981"/>
<rect x="1570" y="494" width="5" height="13" fill="#089981"/>
<rect x="1580" y="484" width="1" height="24" fill="#f23645"/>
<rect x="1578" y="494" width="5" height="10" fill="#f23645"/>
<rect x="1588" y="489" width="1" height="18" fill="#089981"/>
<rect x="1586" y="492" width="5" height="12" fill="#089981"/>
<rect x="1596" y="483" width="1" height="24" fill="#f23645"/>
<rect x="1594" y="493" width="5" height="7" fill="#f23645"/>
<rect x="1604" y="493" width="1" height="12" fill="#f23645"/>
<rect x="1602" y="500" width="5" height="2" fill="#f23645"/>
<rect x="1612" y="500" width="1" height="18" fill="#f23645"/>
<rect x="1610" y="500" width="5" height="12" fill="#f23645"/>
<rect x="1620" y="504" width="1" height="17" fill="#f23645"/>
<rect x="1618" y="512" width="5" height="9" fill="#f23645"/>
<rect x="1628" y="503" width="1" height="23" fill="#089981"/>
<rect x="1626" y="509" width="5" height="12" fill="#089981"/>
<rect x="1636" y="503" width="1" height="18" fill="#f23645"/>
<rect x="1634" y="509" width="5" height="12" fill="#f23645"/>
<rect x="1643" y="518" width="1" height="34" fill="#f23645"/>
<rect x="1641" y="520" width="5" height="15" fill="#f23645"/>
<rect x="1651" y="533" width="1" height="17" fill="#f23645"/>
<rect x="1649" y="534" width="5" height="16" fill="#f23645"/>
<rect x="1659" y="538" width="1" height="13" fill="#f23645"/>
<rect x="1657" y="545" width="5" height="1" fill="#f23645"/>
<rect x="1667" y="518" width="1" height="29" fill="#089981"/>
<rect x="1665" y="527" width="5" height="20" fill="#089981"/>
<rect x="1675" y="512" width="1" height="17" fill="#089981"/>
<rect x="1673" y="522" width="5" height="6" fill="#089981"/>
<rect x="1683" y="517" width="1" height="16" fill="#089981"/>
<rect x="1681" y="520" width="5" height="3" fill="#089981"/>
<rect x="1691" y="510" width="1" height="18" fill="#089981"/>
<rect x="1689" y="516" width="5" height="5" fill="#089981"/>
<rect x="1699" y="510" width="1" height="8" fill="#f23645"/>
<rect x="1697" y="515" width="5" height="3" fill="#f23645"/>
<rect x="1707" y="518" width="1" height="9" fill="#089981"/>
<rect x="1705" y="519" width="5" height="7" fill="#089981"/>
<rect x="1715" y="510" width="1" height="11" fill="#089981"/>
<rect x="1713" y="512" width="5" height="8" fill="#089981"/>
<rect x="1722" y="492" width="1" height="22" fill="#089981"/>
<rect x="1720" y="496" width="5" height="17" fill="#089981"/>
<rect x="1730" y="492" width="1" height="8" fill="#089981"/>
<rect x="1728" y="495" width="5" height="1" fill="#089981"/>
<rect x="1738" y="494" width="1" height="33" fill="#f23645"/>
<rect x="1736" y="495" width="5" height="19" fill="#f23645"/>
<rect x="1746" y="507" width="1" height="13" fill="#f23645"/>
<rect x="1744" y="513" width="5" height="7" fill="#f23645"/>
<rect x="1754" y="501" width="1" height="17" fill="#089981"/>
<rect x="1752" y="502" width="5" height="16" fill="#089981"/>
<rect x="1762" y="501" width="1" height="11" fill="#f23645"/>
<rect x="1760" y="502" width="5" height="6" fill="#f23645"/>
<rect x="1770" y="494" width="1" height="15" fill="#089981"/>
<rect x="1768" y="499" width="5" height="9" fill="#089981"/>
<rect x="1778" y="495" width="1" height="14" fill="#f23645"/>
<rect x="1776" y="499" width="5" height="6" fill="#f23645"/>
<rect x="1786" y="485" width="1" height="29" fill="#089981"/>
<rect x="1784" y="500" width="5" height="5" fill="#089981"/>
<rect x="1793" y="497" width="1" height="9" fill="#f23645"/>
<rect x="1791" y="500" width="5" height="4" fill="#f23645"/>
<rect x="1801" y="467" width="1" height="33" fill="#089981"/>
<rect x="1799" y="474" width="5" height="26" fill="#089981"/>
<rect x="1809" y="469" width="1" height="9" fill="#089981"/>
<rect x="1807" y="469" width="5" height="6" fill="#089981"/>
<line x1="7" y1="469.5" x2="2083" y2="469.5" stroke="#089981" stroke-width="1" stroke-dasharray="1 2"/>
</g>
<text x="1749.4" y="306.3" font-size="22" font-weight="bold" fill="#000" text-anchor="start" textLength="65.3" lengthAdjust="spacingAndGlyphs">Target</text>
<text x="1834.2" y="306.3" font-size="22" font-weight="bold" fill="#000" text-anchor="middle">2</text>
<text x="1853.7" y="306.3" font-size="22" font-weight="bold" fill="#000" text-anchor="start" textLength="59.9" lengthAdjust="spacingAndGlyphs">4,267</text>
<text x="1749.4" y="379.1" font-size="22" font-weight="bold" fill="#000" text-anchor="start" textLength="65.3" lengthAdjust="spacingAndGlyphs">Target</text>
<text x="1833.8" y="379.1" font-size="22" font-weight="bold" fill="#000" text-anchor="middle">1</text>
<text x="1853.7" y="379.1" font-size="22" font-weight="bold" fill="#000" text-anchor="start" textLength="59.2" lengthAdjust="spacingAndGlyphs">4,163</text>
<text x="1773.5" y="592.7" font-size="22" font-weight="bold" fill="#000" text-anchor="start" textLength="81.1" lengthAdjust="spacingAndGlyphs">Support</text>
<text x="1861.5" y="592.7" font-size="22" font-weight="bold" fill="#000" text-anchor="start" textLength="59.2" lengthAdjust="spacingAndGlyphs">3,916</text>
<text x="1827" y="503" font-size="11" font-weight="bold" fill="#089981" text-anchor="start" textLength="85" lengthAdjust="spacingAndGlyphs">Breakout Again</text>
<rect x="600.5" y="151.5" width="907" height="38" fill="#fff" stroke="#000" stroke-width="2"/>
<text x="605.6" y="179.5" font-size="27" font-weight="bold" fill="#2962ff" text-anchor="start" textLength="59.1" lengthAdjust="spacingAndGlyphs">Gold</text>
<text x="674.0" y="179.5" font-size="27" font-weight="bold" fill="#2962ff" text-anchor="start" textLength="59.8" lengthAdjust="spacingAndGlyphs">Ends</text>
<text x="743.6" y="179.5" font-size="27" font-weight="bold" fill="#2962ff" text-anchor="start" textLength="29.9" lengthAdjust="spacingAndGlyphs">Its</text>
<text x="782.8" y="179.5" font-size="27" font-weight="bold" fill="#2962ff" text-anchor="start" textLength="117.2" lengthAdjust="spacingAndGlyphs">Pullback,</text>
<text x="911.8" y="179.5" font-size="27" font-weight="bold" fill="#2962ff" text-anchor="start" textLength="85.9" lengthAdjust="spacingAndGlyphs">Bullish</text>
<text x="1006.7" y="179.5" font-size="27" font-weight="bold" fill="#2962ff" text-anchor="start" textLength="68.7" lengthAdjust="spacingAndGlyphs">Wave</text>
<text x="1085.2" y="179.5" font-size="27" font-weight="bold" fill="#2962ff" text-anchor="start" textLength="92.1" lengthAdjust="spacingAndGlyphs">Targets</text>
<text x="1187.7" y="179.5" font-size="27" font-weight="bold" fill="#2962ff" text-anchor="start" textLength="63.2" lengthAdjust="spacingAndGlyphs">4267</text>
<text x="1262.2" y="179.5" font-size="27" font-weight="bold" fill="#2962ff" text-anchor="start" textLength="57.3" lengthAdjust="spacingAndGlyphs">Near</text>
<text x="1331.8" y="179.5" font-size="27" font-weight="bold" fill="#2962ff" text-anchor="start" textLength="90.1" lengthAdjust="spacingAndGlyphs">Record</text>
<text x="1430.2" y="179.5" font-size="27" font-weight="bold" fill="#2962ff" text-anchor="start" textLength="70.2" lengthAdjust="spacingAndGlyphs">High?</text>
<text x="154" y="356" font-size="14.5" font-weight="bold" fill="#2962ff" text-anchor="start" textLength="208" lengthAdjust="spacingAndGlyphs">Technical Analysis Checklist</text>
<text x="162.6" y="402.6" font-size="14.5" font-weight="bold" fill="#2962ff" text-anchor="start" textLength="117" lengthAdjust="spacingAndGlyphs">1. Bullish Trend</text>
<text x="162.6" y="434.4" font-size="14.5" font-weight="bold" fill="#2962ff" text-anchor="start" textLength="238" lengthAdjust="spacingAndGlyphs">2. Bullish Marubozu Candlestick</text>
<text x="162.6" y="466.4" font-size="14.5" font-weight="bold" fill="#2962ff" text-anchor="start" textLength="250" lengthAdjust="spacingAndGlyphs">3. Symmetrical Triangle Breakout</text>
<text x="162.6" y="498.5" font-size="14.5" font-weight="bold" fill="#2962ff" text-anchor="start" textLength="163" lengthAdjust="spacingAndGlyphs">4. MACD Golden Cross</text>
<g transform="translate(458.8,386)" fill="none" stroke="#2962ff"><path d="M13.1 0.4 H3.2 Q0.6 0.4 0.6 3 V11 Q0.6 13.6 3.2 13.6 H11.5 Q14.1 13.6 14.1 11 V8" stroke-width="1.15"/><path d="M3.6 5.2 L8.1 10.4 L16.5 1.2" stroke-width="3"/></g>
<g transform="translate(458.8,423)" fill="none" stroke="#2962ff"><path d="M13.1 0.4 H3.2 Q0.6 0.4 0.6 3 V11 Q0.6 13.6 3.2 13.6 H11.5 Q14.1 13.6 14.1 11 V8" stroke-width="1.15"/><path d="M3.6 5.2 L8.1 10.4 L16.5 1.2" stroke-width="3"/></g>
<g transform="translate(458.8,455.3)" fill="none" stroke="#2962ff"><path d="M13.1 0.4 H3.2 Q0.6 0.4 0.6 3 V11 Q0.6 13.6 3.2 13.6 H11.5 Q14.1 13.6 14.1 11 V8" stroke-width="1.15"/><path d="M3.6 5.2 L8.1 10.4 L16.5 1.2" stroke-width="3"/></g>
<g transform="translate(458.8,494.6)" fill="none" stroke="#2962ff"><path d="M13.1 0.4 H3.2 Q0.6 0.4 0.6 3 V11 Q0.6 13.6 3.2 13.6 H11.5 Q14.1 13.6 14.1 11 V8" stroke-width="1.15"/><path d="M3.6 5.2 L8.1 10.4 L16.5 1.2" stroke-width="3"/></g>
<rect x="2134.5" y="315" width="66" height="17" fill="#000"/>
<text x="2143" y="326.9" font-size="12" font-weight="bold" fill="#fff" text-anchor="start" textLength="53" lengthAdjust="spacingAndGlyphs">4,267.075</text>
<rect x="2134.5" y="385" width="66" height="17" fill="#000"/>
<text x="2143" y="396.9" font-size="12" font-weight="bold" fill="#fff" text-anchor="start" textLength="53" lengthAdjust="spacingAndGlyphs">4,163.635</text>
<rect x="2134.5" y="552" width="66" height="17" fill="#000"/>
<text x="2143" y="563.9" font-size="12" font-weight="bold" fill="#fff" text-anchor="start" textLength="53" lengthAdjust="spacingAndGlyphs">3,916.590</text>
<rect x="2134.5" y="461" width="66" height="30.3" rx="1" fill="#089981"/>
<rect x="2134.5" y="491.6" width="66" height="17" rx="1" fill="#089981"/>
<text x="2143" y="472.7" font-size="12" font-weight="bold" fill="#fff" text-anchor="start" textLength="53" lengthAdjust="spacingAndGlyphs">4,050.970</text>
<text x="2143" y="486.4" font-size="12" font-weight="normal" fill="#c3e6df" text-anchor="start" textLength="46" lengthAdjust="spacingAndGlyphs">02:15:40</text>
<text x="2143" y="503.6" font-size="12" font-weight="bold" fill="#fff" text-anchor="start" textLength="53" lengthAdjust="spacingAndGlyphs">4,019.645</text>
<rect x="2083" y="461" width="50.5" height="16.7" rx="2" fill="#089981"/>
<text x="2087" y="473.5" font-size="12" font-weight="normal" fill="#fff" text-anchor="start" textLength="43" lengthAdjust="spacingAndGlyphs">XAUUSD</text>
<g clip-path="url(#cd)">
<rect x="6" y="889" width="7" height="2" fill="#b2dfdb"/>
<rect x="14" y="890" width="7" height="3" fill="#ff5252"/>
<rect x="22" y="890" width="7" height="4" fill="#ff5252"/>
<rect x="30" y="890" width="6" height="3" fill="#ffcdd2"/>
<rect x="37" y="890" width="7" height="6" fill="#ff5252"/>
<rect x="45" y="890" width="7" height="7" fill="#ff5252"/>
<rect x="53" y="890" width="7" height="9" fill="#ff5252"/>
<rect x="61" y="890" width="7" height="8" fill="#ffcdd2"/>
<rect x="69" y="890" width="7" height="8" fill="#ffcdd2"/>
<rect x="77" y="890" width="7" height="9" fill="#ff5252"/>
<rect x="85" y="890" width="7" height="10" fill="#ff5252"/>
<rect x="93" y="890" width="7" height="10" fill="#ff5252"/>
<rect x="101" y="890" width="7" height="8" fill="#ffcdd2"/>
<rect x="109" y="890" width="6" height="7" fill="#ffcdd2"/>
<rect x="116" y="890" width="7" height="5" fill="#ffcdd2"/>
<rect x="124" y="890" width="7" height="4" fill="#ffcdd2"/>
<rect x="132" y="890" width="7" height="1" fill="#ffcdd2"/>
<rect x="140" y="886" width="7" height="5" fill="#26a69a"/>
<rect x="148" y="884" width="7" height="7" fill="#26a69a"/>
<rect x="156" y="882" width="7" height="9" fill="#26a69a"/>
<rect x="164" y="880" width="7" height="11" fill="#26a69a"/>
<rect x="172" y="878" width="7" height="13" fill="#26a69a"/>
<rect x="180" y="876" width="7" height="15" fill="#26a69a"/>
<rect x="188" y="876" width="6" height="15" fill="#26a69a"/>
<rect x="195" y="877" width="7" height="14" fill="#b2dfdb"/>
<rect x="203" y="876" width="7" height="15" fill="#26a69a"/>
<rect x="211" y="875" width="7" height="16" fill="#26a69a"/>
<rect x="219" y="876" width="7" height="15" fill="#b2dfdb"/>
<rect x="227" y="879" width="7" height="12" fill="#b2dfdb"/>
<rect x="235" y="882" width="7" height="9" fill="#b2dfdb"/>
<rect x="243" y="884" width="7" height="7" fill="#b2dfdb"/>
<rect x="251" y="886" width="7" height="5" fill="#b2dfdb"/>
<rect x="259" y="887" width="6" height="4" fill="#b2dfdb"/>
<rect x="266" y="890" width="7" height="3" fill="#ff5252"/>
<rect x="274" y="890" width="7" height="7" fill="#ff5252"/>
<rect x="282" y="890" width="7" height="7" fill="#ff5252"/>
<rect x="290" y="890" width="7" height="9" fill="#ff5252"/>
<rect x="298" y="890" width="7" height="8" fill="#ffcdd2"/>
<rect x="306" y="890" width="7" height="9" fill="#ff5252"/>
<rect x="314" y="890" width="7" height="10" fill="#ff5252"/>
<rect x="322" y="890" width="7" height="9" fill="#ffcdd2"/>
<rect x="330" y="890" width="7" height="8" fill="#ffcdd2"/>
<rect x="338" y="890" width="6" height="7" fill="#ffcdd2"/>
<rect x="345" y="890" width="7" height="6" fill="#ffcdd2"/>
<rect x="353" y="890" width="7" height="6" fill="#ffcdd2"/>
<rect x="361" y="890" width="7" height="3" fill="#ffcdd2"/>
<rect x="369" y="890" width="7" height="3" fill="#ffcdd2"/>
<rect x="377" y="889" width="7" height="2" fill="#26a69a"/>
<rect x="385" y="886" width="7" height="5" fill="#26a69a"/>
<rect x="393" y="883" width="7" height="8" fill="#26a69a"/>
<rect x="401" y="882" width="7" height="9" fill="#26a69a"/>
<rect x="409" y="880" width="7" height="11" fill="#26a69a"/>
<rect x="417" y="880" width="6" height="11" fill="#26a69a"/>
<rect x="424" y="880" width="7" height="11" fill="#26a69a"/>
<rect x="432" y="878" width="7" height="13" fill="#26a69a"/>
<rect x="440" y="882" width="7" height="9" fill="#b2dfdb"/>
<rect x="448" y="886" width="7" height="5" fill="#b2dfdb"/>
<rect x="456" y="886" width="7" height="5" fill="#b2dfdb"/>
<rect x="464" y="885" width="7" height="6" fill="#26a69a"/>
<rect x="472" y="885" width="7" height="6" fill="#26a69a"/>
<rect x="480" y="885" width="7" height="6" fill="#b2dfdb"/>
<rect x="488" y="883" width="6" height="8" fill="#26a69a"/>
<rect x="495" y="885" width="7" height="6" fill="#b2dfdb"/>
<rect x="503" y="886" width="7" height="5" fill="#b2dfdb"/>
<rect x="511" y="888" width="7" height="3" fill="#b2dfdb"/>
<rect x="519" y="890" width="7" height="2" fill="#ff5252"/>
<rect x="527" y="890" width="7" height="3" fill="#ff5252"/>
<rect x="535" y="890" width="7" height="3" fill="#ff5252"/>
<rect x="543" y="890" width="7" height="3" fill="#ffcdd2"/>
<rect x="551" y="890" width="7" height="6" fill="#ff5252"/>
<rect x="559" y="890" width="7" height="8" fill="#ff5252"/>
<rect x="567" y="890" width="6" height="8" fill="#ff5252"/>
<rect x="574" y="890" width="7" height="10" fill="#ff5252"/>
<rect x="582" y="890" width="7" height="9" fill="#ffcdd2"/>
<rect x="590" y="890" width="7" height="6" fill="#ffcdd2"/>
<rect x="598" y="890" width="7" height="5" fill="#ffcdd2"/>
<rect x="606" y="890" width="7" height="3" fill="#ffcdd2"/>
<rect x="614" y="890" width="7" height="1" fill="#ffcdd2"/>
<rect x="622" y="885" width="7" height="6" fill="#26a69a"/>
<rect x="630" y="882" width="7" height="9" fill="#26a69a"/>
<rect x="638" y="882" width="7" height="9" fill="#26a69a"/>
<rect x="646" y="880" width="6" height="11" fill="#26a69a"/>
<rect x="653" y="880" width="7" height="11" fill="#26a69a"/>
<rect x="661" y="880" width="7" height="11" fill="#b2dfdb"/>
<rect x="669" y="880" width="7" height="11" fill="#26a69a"/>
<rect x="677" y="883" width="7" height="8" fill="#b2dfdb"/>
<rect x="685" y="883" width="7" height="8" fill="#26a69a"/>
<rect x="693" y="884" width="7" height="7" fill="#b2dfdb"/>
<rect x="701" y="884" width="7" height="7" fill="#b2dfdb"/>
<rect x="709" y="885" width="7" height="6" fill="#b2dfdb"/>
<rect x="717" y="882" width="6" height="9" fill="#26a69a"/>
<rect x="724" y="881" width="7" height="10" fill="#26a69a"/>
<rect x="732" y="880" width="7" height="11" fill="#26a69a"/>
<rect x="740" y="879" width="7" height="12" fill="#26a69a"/>
<rect x="748" y="881" width="7" height="10" fill="#b2dfdb"/>
<rect x="756" y="886" width="7" height="5" fill="#b2dfdb"/>
<rect x="764" y="887" width="7" height="4" fill="#b2dfdb"/>
<rect x="772" y="889" width="7" height="2" fill="#b2dfdb"/>
<rect x="780" y="890" width="7" height="1" fill="#b2dfdb"/>
<rect x="788" y="890" width="7" height="10" fill="#ff5252"/>
<rect x="796" y="890" width="6" height="14" fill="#ff5252"/>
<rect x="803" y="890" width="7" height="16" fill="#ff5252"/>
<rect x="811" y="890" width="7" height="19" fill="#ff5252"/>
<rect x="819" y="890" width="7" height="18" fill="#ffcdd2"/>
<rect x="827" y="890" width="7" height="18" fill="#ffcdd2"/>
<rect x="835" y="890" width="7" height="17" fill="#ffcdd2"/>
<rect x="843" y="890" width="7" height="13" fill="#ffcdd2"/>
<rect x="851" y="890" width="7" height="7" fill="#ffcdd2"/>
<rect x="859" y="890" width="7" height="1" fill="#ffcdd2"/>
<rect x="867" y="886" width="7" height="5" fill="#26a69a"/>
<rect x="875" y="883" width="6" height="8" fill="#26a69a"/>
<rect x="882" y="880" width="7" height="11" fill="#26a69a"/>
<rect x="890" y="878" width="7" height="13" fill="#26a69a"/>
<rect x="898" y="876" width="7" height="15" fill="#26a69a"/>
<rect x="906" y="872" width="7" height="19" fill="#26a69a"/>
<rect x="914" y="873" width="7" height="18" fill="#b2dfdb"/>
<rect x="922" y="879" width="7" height="12" fill="#b2dfdb"/>
<rect x="930" y="880" width="7" height="11" fill="#b2dfdb"/>
<rect x="938" y="882" width="7" height="9" fill="#b2dfdb"/>
<rect x="946" y="882" width="6" height="9" fill="#26a69a"/>
<rect x="953" y="881" width="7" height="10" fill="#26a69a"/>
<rect x="961" y="879" width="7" height="12" fill="#26a69a"/>
<rect x="969" y="880" width="7" height="11" fill="#b2dfdb"/>
<rect x="977" y="881" width="7" height="10" fill="#b2dfdb"/>
<rect x="985" y="882" width="7" height="9" fill="#b2dfdb"/>
<rect x="993" y="884" width="7" height="7" fill="#b2dfdb"/>
<rect x="1001" y="883" width="7" height="8" fill="#26a69a"/>
<rect x="1009" y="884" width="7" height="7" fill="#b2dfdb"/>
<rect x="1017" y="885" width="7" height="6" fill="#b2dfdb"/>
<rect x="1025" y="882" width="6" height="9" fill="#26a69a"/>
<rect x="1032" y="877" width="7" height="14" fill="#26a69a"/>
<rect x="1040" y="872" width="7" height="19" fill="#26a69a"/>
<rect x="1048" y="869" width="7" height="22" fill="#26a69a"/>
<rect x="1056" y="872" width="7" height="19" fill="#b2dfdb"/>
<rect x="1064" y="879" width="7" height="12" fill="#b2dfdb"/>
<rect x="1072" y="890" width="7" height="6" fill="#ff5252"/>
<rect x="1080" y="890" width="7" height="12" fill="#ff5252"/>
<rect x="1088" y="890" width="7" height="17" fill="#ff5252"/>
<rect x="1096" y="890" width="7" height="18" fill="#ff5252"/>
<rect x="1104" y="890" width="6" height="19" fill="#ff5252"/>
<rect x="1111" y="890" width="7" height="14" fill="#ffcdd2"/>
<rect x="1119" y="890" width="7" height="8" fill="#ffcdd2"/>
<rect x="1127" y="890" width="7" height="3" fill="#ffcdd2"/>
<rect x="1135" y="889" width="7" height="2" fill="#26a69a"/>
<rect x="1143" y="890" width="7" height="1" fill="#ff5252"/>
<rect x="1151" y="890" width="7" height="9" fill="#ff5252"/>
<rect x="1159" y="890" width="7" height="21" fill="#ff5252"/>
<rect x="1167" y="890" width="7" height="37" fill="#ff5252"/>
<rect x="1175" y="890" width="6" height="45" fill="#ff5252"/>
<rect x="1182" y="890" width="7" height="53" fill="#ff5252"/>
<rect x="1190" y="890" width="7" height="50" fill="#ffcdd2"/>
<rect x="1198" y="890" width="7" height="52" fill="#ff5252"/>
<rect x="1206" y="890" width="7" height="54" fill="#ff5252"/>
<rect x="1214" y="890" width="7" height="50" fill="#ffcdd2"/>
<rect x="1222" y="890" width="7" height="39" fill="#ffcdd2"/>
<rect x="1230" y="890" width="7" height="34" fill="#ffcdd2"/>
<rect x="1238" y="890" width="7" height="27" fill="#ffcdd2"/>
<rect x="1246" y="890" width="7" height="19" fill="#ffcdd2"/>
<rect x="1254" y="890" width="6" height="11" fill="#ffcdd2"/>
<rect x="1261" y="890" width="7" height="4" fill="#ffcdd2"/>
<rect x="1269" y="889" width="7" height="2" fill="#26a69a"/>
<rect x="1277" y="886" width="7" height="5" fill="#26a69a"/>
<rect x="1285" y="885" width="7" height="6" fill="#26a69a"/>
<rect x="1293" y="889" width="7" height="2" fill="#b2dfdb"/>
<rect x="1301" y="890" width="7" height="1" fill="#ff5252"/>
<rect x="1309" y="885" width="7" height="6" fill="#26a69a"/>
<rect x="1317" y="883" width="7" height="8" fill="#26a69a"/>
<rect x="1325" y="886" width="7" height="5" fill="#b2dfdb"/>
<rect x="1333" y="888" width="6" height="3" fill="#b2dfdb"/>
<rect x="1340" y="890" width="7" height="3" fill="#ff5252"/>
<rect x="1348" y="890" width="7" height="4" fill="#ff5252"/>
<rect x="1356" y="890" width="7" height="9" fill="#ff5252"/>
<rect x="1364" y="890" width="7" height="13" fill="#ff5252"/>
<rect x="1372" y="890" width="7" height="12" fill="#ffcdd2"/>
<rect x="1380" y="890" width="7" height="14" fill="#ff5252"/>
<rect x="1388" y="890" width="7" height="21" fill="#ff5252"/>
<rect x="1396" y="890" width="7" height="22" fill="#ff5252"/>
<rect x="1404" y="890" width="6" height="17" fill="#ffcdd2"/>
<rect x="1411" y="890" width="7" height="13" fill="#ffcdd2"/>
<rect x="1419" y="890" width="7" height="6" fill="#ffcdd2"/>
<rect x="1427" y="890" width="7" height="4" fill="#ffcdd2"/>
<rect x="1435" y="884" width="7" height="7" fill="#26a69a"/>
<rect x="1443" y="877" width="7" height="14" fill="#26a69a"/>
<rect x="1451" y="876" width="7" height="15" fill="#26a69a"/>
<rect x="1459" y="882" width="7" height="9" fill="#b2dfdb"/>
<rect x="1467" y="883" width="7" height="8" fill="#b2dfdb"/>
<rect x="1475" y="882" width="7" height="9" fill="#26a69a"/>
<rect x="1483" y="880" width="6" height="11" fill="#26a69a"/>
<rect x="1490" y="881" width="7" height="10" fill="#b2dfdb"/>
<rect x="1498" y="877" width="7" height="14" fill="#26a69a"/>
<rect x="1506" y="872" width="7" height="19" fill="#26a69a"/>
<rect x="1514" y="870" width="7" height="21" fill="#26a69a"/>
<rect x="1522" y="871" width="7" height="20" fill="#b2dfdb"/>
<rect x="1530" y="872" width="7" height="19" fill="#b2dfdb"/>
<rect x="1538" y="872" width="7" height="19" fill="#26a69a"/>
<rect x="1546" y="876" width="7" height="15" fill="#b2dfdb"/>
<rect x="1554" y="878" width="6" height="13" fill="#b2dfdb"/>
<rect x="1561" y="880" width="7" height="11" fill="#b2dfdb"/>
<rect x="1569" y="879" width="7" height="12" fill="#26a69a"/>
<rect x="1577" y="881" width="7" height="10" fill="#b2dfdb"/>
<rect x="1585" y="880" width="7" height="11" fill="#26a69a"/>
<rect x="1593" y="882" width="7" height="9" fill="#b2dfdb"/>
<rect x="1601" y="883" width="7" height="8" fill="#b2dfdb"/>
<rect x="1609" y="886" width="7" height="5" fill="#b2dfdb"/>
<rect x="1617" y="889" width="7" height="2" fill="#b2dfdb"/>
<rect x="1625" y="889" width="7" height="2" fill="#b2dfdb"/>
<rect x="1633" y="890" width="6" height="1" fill="#ff5252"/>
<rect x="1640" y="890" width="7" height="4" fill="#ff5252"/>
<rect x="1648" y="890" width="7" height="8" fill="#ff5252"/>
<rect x="1656" y="890" width="7" height="9" fill="#ff5252"/>
<rect x="1664" y="890" width="7" height="7" fill="#ffcdd2"/>
<rect x="1672" y="890" width="7" height="4" fill="#ffcdd2"/>
<rect x="1680" y="890" width="7" height="2" fill="#ffcdd2"/>
<rect x="1688" y="888" width="7" height="3" fill="#26a69a"/>
<rect x="1696" y="887" width="7" height="4" fill="#26a69a"/>
<rect x="1704" y="886" width="7" height="5" fill="#26a69a"/>
<rect x="1712" y="885" width="6" height="6" fill="#26a69a"/>
<rect x="1719" y="882" width="7" height="9" fill="#26a69a"/>
<rect x="1727" y="880" width="7" height="11" fill="#26a69a"/>
<rect x="1735" y="882" width="7" height="9" fill="#b2dfdb"/>
<rect x="1743" y="884" width="7" height="7" fill="#b2dfdb"/>
<rect x="1751" y="884" width="7" height="7" fill="#26a69a"/>
<rect x="1759" y="884" width="7" height="7" fill="#b2dfdb"/>
<rect x="1767" y="883" width="7" height="8" fill="#26a69a"/>
<rect x="1775" y="884" width="7" height="7" fill="#b2dfdb"/>
<rect x="1783" y="884" width="6" height="7" fill="#26a69a"/>
<rect x="1790" y="885" width="7" height="6" fill="#b2dfdb"/>
<rect x="1798" y="881" width="7" height="10" fill="#26a69a"/>
<rect x="1806" y="879" width="7" height="12" fill="#26a69a"/>
<line x1="7.2" y1="890.5" x2="2134" y2="890.5" stroke="#a6a8b0" stroke-width="1" stroke-dasharray="5 6"/>
<polyline fill="none" stroke="#2962ff" stroke-width="1.1" stroke-linejoin="round" points="6.5,862.7 17.4,867.4 32.5,869.2 41.2,873.1 56.4,878.9 71.6,881.8 95.4,890.4 108.5,890.4 119.3,892.0 128.0,889.8 138.8,885.0 149.7,881.5 159.4,875.7 184.4,860.5 197.4,855.7 214.8,845.7 222.3,843.1 238.6,844.2 251.6,845.7 262.0,847.9 270.1,853.6 277.7,857.7 292.8,863.8 301.5,864.8 316.7,871.3 331.9,873.1 355.7,875.2 364.4,873.1 372.5,873.1 381.8,869.2 397.0,860.9 412.1,854.6 427.3,848.1 434.9,843.6 450.1,848.8 459.9,847.5 467.5,845.7 483.0,843.8 490.8,840.3 498.9,840.5 506.9,841.6 514.7,843.6 522.5,846.8 530.5,848.8 538.3,849.2 546.1,849.4 554.2,854.2 562.0,857.2 569.8,860.1 577.8,864.2 585.6,865.1 593.6,864.8 601.5,863.8 609.3,862.9 617.3,860.7 625.1,854.4 633.1,849.7 640.9,847.5 649.0,843.8 656.8,840.5 664.6,838.2 671.7,835.6 680.0,837.1 688.2,835.6 696.2,835.1 704.1,834.5 712.1,833.4 719.9,829.3 727.7,825.1 735.7,822.1 743.5,819.1 751.6,819.1 759.4,822.3 767.2,823.6 775.2,825.1 783.0,825.4 791.0,836.6 798.9,845.3 806.7,851.8 814.7,858.8 822.5,862.0 830.3,865.5 838.3,869.0 846.1,867.4 854.2,863.8 862.0,859.6 870.0,853.6 877.8,849.2 885.6,842.7 893.6,837.9 901.5,833.4 909.3,824.3 917.3,821.5 925.1,824.5 933.1,823.6 940.9,823.2 948.9,821.4 956.7,818.2 964.7,813.2 972.5,812.3 980.3,811.7 988.4,811.0 996.2,810.6 1004.2,808.6 1012.0,808.0 1019.8,808.0 1027.9,803.4 1035.7,794.1 1043.7,785.0 1051.5,776.5 1059.3,775.7 1067.3,780.2 1075.1,798.0 1083.2,807.1 1091.0,816.0 1098.8,821.4 1106.8,827.3 1114.6,824.9 1122.6,820.8 1130.5,817.5 1138.3,813.2 1146.3,815.4 1154.1,825.3 1162.1,841.4 1169.9,867.0 1177.7,887.0 1185.8,907.6 1193.6,917.3 1201.6,932.5 1209.4,946.6 1217.2,954.6 1225.2,955.7 1233.1,957.7 1241.1,957.5 1248.9,953.1 1256.7,947.7 1264.7,941.6 1272.5,937.7 1280.3,933.6 1288.4,932.1 1296.2,935.5 1304.2,936.2 1312.0,930.8 1319.8,927.3 1327.9,928.4 1335.7,930.3 1343.7,934.7 1351.5,937.1 1359.3,944.2 1367.3,951.4 1375.1,953.1 1383.2,957.9 1391.0,970.5 1398.8,977.2 1406.7,976.1 1414.8,974.4 1422.6,969.6 1430.4,967.9 1438.4,957.5 1446.2,947.3 1454.2,943.4 1462.0,947.0 1469.8,946.6 1477.9,943.4 1485.7,939.7 1493.7,937.5 1501.5,930.3 1509.3,922.1 1517.4,914.7 1525.2,910.8 1533.0,906.9 1541.0,902.8 1548.8,904.3 1556.8,902.8 1564.6,901.9 1572.5,899.1 1580.5,898.0 1588.3,895.6 1596.3,894.8 1604.1,894.8 1611.9,896.3 1620.0,899.1 1627.8,899.1 1635.8,901.3 1643.6,905.2 1651.4,910.4 1659.4,913.9 1667.2,913.0 1675.3,911.0 1683.1,908.9 1690.9,906.0 1698.9,903.9 1706.7,902.8 1714.8,900.2 1722.6,895.0 1730.4,890.9 1738.4,890.9 1746.2,891.9 1754.0,890.0 1762.0,889.1 1769.8,887.0 1777.9,886.3 1785.7,885.0 1793.7,884.6 1801.5,878.7 1809.3,873.3"/>
<polyline fill="none" stroke="#ff6d00" stroke-width="1.1" stroke-linejoin="round" points="6.5,863.3 32.5,865.9 65.1,873.1 95.4,881.1 119.3,886.1 130.2,887.0 141.0,886.1 151.8,884.8 167.0,881.1 184.4,875.2 206.1,864.8 227.8,856.2 243.0,852.3 256.0,850.3 263.6,849.7 277.7,852.3 301.5,857.9 325.4,864.4 347.1,868.7 364.4,870.7 375.3,871.3 390.5,869.8 412.1,864.4 436.0,855.7 455.5,852.3 491.7,846.4 513.4,844.2 530.7,845.5 546.1,847.0 562.0,850.7 577.8,855.1 593.6,858.3 609.3,859.8 621.8,859.4 633.1,856.8 649.0,852.3 671.7,845.3 696.2,840.3 712.1,838.2 727.7,834.0 749.8,827.5 767.2,825.8 783.0,825.4 791.0,827.3 798.9,830.6 814.7,839.9 830.3,849.0 846.1,855.5 858.3,857.5 870.0,856.8 885.6,852.9 901.5,846.8 917.3,838.6 933.1,832.7 956.7,826.2 972.5,821.4 988.4,817.5 1004.2,814.7 1019.8,812.3 1027.9,810.6 1035.7,806.7 1043.7,802.4 1051.5,797.6 1059.3,793.7 1067.3,791.5 1075.1,793.0 1083.2,796.9 1091.0,801.3 1098.8,805.2 1106.8,809.3 1114.6,812.1 1122.6,813.4 1130.5,813.9 1138.3,814.3 1146.3,814.3 1154.1,817.1 1162.1,821.2 1169.9,829.9 1177.7,841.8 1185.8,855.5 1193.6,867.4 1201.6,880.4 1209.4,893.5 1217.2,905.4 1225.2,915.2 1233.1,924.3 1241.1,931.0 1248.9,935.3 1256.7,937.7 1264.7,938.6 1272.5,938.4 1280.3,937.3 1288.4,936.4 1296.2,936.2 1304.2,936.2 1312.0,934.9 1319.8,933.8 1327.9,932.7 1335.7,932.5 1343.7,932.9 1351.5,933.8 1359.3,936.2 1367.3,939.0 1375.1,941.6 1383.2,944.9 1391.0,949.9 1398.8,955.3 1406.7,959.6 1414.8,962.4 1422.6,964.0 1430.4,964.6 1438.4,963.5 1446.2,960.3 1454.2,957.0 1462.0,954.8 1469.8,953.1 1477.9,950.9 1485.7,948.6 1493.7,946.0 1501.5,942.7 1509.3,938.6 1517.4,934.0 1525.2,929.5 1533.0,925.1 1541.0,920.8 1548.8,917.5 1556.8,914.5 1564.6,911.7 1572.5,909.3 1580.5,906.9 1588.3,904.7 1596.3,902.8 1604.1,901.3 1611.9,900.4 1620.0,900.2 1627.8,900.0 1635.8,900.4 1643.6,901.7 1651.4,903.7 1659.4,905.6 1667.2,906.9 1675.3,907.6 1683.1,907.8 1690.9,907.6 1698.9,906.9 1706.7,906.0 1714.8,904.7 1722.6,902.6 1730.4,900.4 1738.4,898.4 1746.2,896.9 1754.0,895.2 1762.0,893.7 1769.8,892.2 1777.9,890.9 1785.7,889.6 1793.7,888.5 1801.5,886.7 1809.3,884.6"/>
</g>
<g transform="translate(375,120) scale(0.11403)">
<defs><linearGradient id="sh" x1="0" y1="0" x2="1" y2="1"><stop offset="0" stop-color="#e0e0e0"/><stop offset="1" stop-color="#f5f5f5"/></linearGradient></defs>
<polygon points="715,1040 1300,690 1542,839 955,1186" fill="url(#sh)"/>
<polygon points="350,835 395,852 440,895 372,870" fill="#e2e2e2"/>
<!-- back-left bar -->
<polygon points="105,500 300,385 480,480 290,600" fill="#fcc20e"/>
<polygon points="260,530 560,690 398,858 340,830" fill="#ffa000"/>
<polygon points="105,500 288,602 355,838 35,640" fill="#fdd835" stroke="#fdd835" stroke-width="8" stroke-linejoin="round"/>
<!-- front-right bar -->
<polygon points="470,705 1060,365 1235,460 640,805" fill="#fcc20e"/>
<polygon points="560,700 1075,400 1205,470 660,790" fill="#fdd42c"/>
<polygon points="600,718 775,690 720,722 650,742" fill="#fcc20e"/>
<polygon points="930,512 1105,505 1060,532 885,540" fill="#fcc20e"/>
<polygon points="640,805 1235,460 1300,690 715,1040" fill="#f0a006"/>
<polygon points="640,805 960,640 790,950 715,1040" fill="#f5b00d"/>
<polygon points="470,705 640,805 715,1040 390,850" fill="#fdd92c" stroke="#fdd92c" stroke-width="8" stroke-linejoin="round"/>
<!-- top bar -->
<polygon points="305,380 885,42 1060,140 470,480" fill="#fcc20e"/>
<polygon points="700,160 985,158 940,185 650,190" fill="#fdd74a"/>
<polygon points="600,218 900,215 590,400 335,372" fill="#fee266"/>
<polygon points="470,480 1060,140 1130,370 540,710" fill="#f0a006"/>
<polygon points="470,480 800,300 610,640 540,710" fill="#f5b00d"/>
<polygon points="305,380 470,480 540,710 225,520" fill="#fdd92c" stroke="#fdd92c" stroke-width="8" stroke-linejoin="round"/>
<path d="M470,435 Q478,474 517,482 Q478,490 470,529 Q462,490 423,482 Q462,474 470,435Z" fill="#fff"/>
<path d="M642,758 Q650,797 689,805 Q650,813 642,852 Q634,813 595,805 Q634,797 642,758Z" fill="#fff"/>
</g>

<g fill="#131722"><path d="M6.3 1027.8 H14.8 V1038.7 H10 V1032 H6.3 Z"/><circle cx="18.2" cy="1030" r="2.2"/><path d="M23.2 1027.8 H28.4 L23.2 1038.7 H18 Z"/></g>
<text x="33.1" y="1038.7" font-size="17" font-weight="bold" fill="#131722" textLength="91.7" lengthAdjust="spacingAndGlyphs">TradingView</text>

</svg></body></html>
